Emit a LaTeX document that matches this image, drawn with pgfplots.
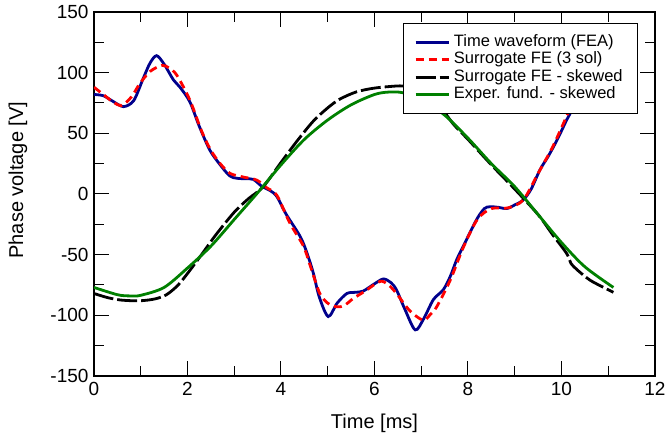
\documentclass[border=0pt]{standalone}
\usepackage{fontspec}
\setmainfont{Liberation Sans}
\usepackage{pgfplots}
\pgfplotsset{compat=1.18}
\definecolor{fea}{RGB}{0,0,140}
\definecolor{grn}{RGB}{0,128,0}
\begin{document}
\begin{tikzpicture}
\begin{axis}[
  at={(0pt,0pt)}, anchor=south west,
  scale only axis, width=561pt, height=364pt,
  xmin=0, xmax=12, ymin=-150, ymax=150,
  xtick={0,2,...,12}, ytick={-150,-100,...,150},
  minor x tick num=1, minor y tick num=1,
  tick align=inside, major tick length=15pt, minor tick length=10pt,
  every tick/.style={black, line width=1pt},
  axis line style={line width=2pt},
  ticklabel style={font=\fontsize{19}{22}\selectfont},
  yticklabel style={xshift=-2pt},
  xticklabel style={yshift=-3pt},
  /pgf/number format/assume math mode=true,
  xlabel={Time [ms]}, ylabel={Phase voltage [V]},
  every axis x label/.style={at={(rel axis cs:0.5,0)}, anchor=center, yshift=-47pt,
    font=\fontsize{20}{22}\selectfont},
  every axis y label/.style={at={(rel axis cs:0,0.538)}, xshift=-76pt, rotate=90, anchor=center,
    font=\fontsize{20}{22}\selectfont},
  legend style={at={(0.97,0.97)}, anchor=north east, draw=black, line width=1pt,
    fill=white, font=\fontsize{16.5}{18}\selectfont, cells={anchor=west},
    row sep=0pt, column sep=0pt, inner xsep=11pt, inner ysep=10pt,
    nodes={inner xsep=4pt, inner ysep=1pt, text height=12pt, text depth=3.5pt}},
  legend image code/.code={\draw[#1] (0pt,0pt) -- (33pt,0pt);},
]
\addplot[fea, line width=2.8pt, smooth, tension=0.5] coordinates {
(0,82) (0.2,81) (0.4,76.5) (0.63,72) (0.85,77) (1.05,95) (1.2,108) (1.34,114)
(1.5,107) (1.7,94) (1.84,88) (2.05,76) (2.25,56) (2.48,36) (2.7,24) (2.9,15)
(3.05,13) (3.25,12.5) (3.41,12) (3.6,6) (3.76,3) (3.91,-2) (4.1,-16) (4.41,-35)
(4.55,-48) (4.69,-65) (4.82,-85) (5.01,-101) (5.2,-90) (5.41,-82) (5.6,-81)
(5.76,-80) (6.0,-74) (6.19,-70) (6.35,-73) (6.47,-79) (6.65,-95) (6.87,-112)
(7.05,-103) (7.26,-87) (7.47,-79) (7.62,-68) (7.76,-54) (7.9,-43) (8.04,-32)
(8.2,-20) (8.35,-12) (8.47,-10.5) (8.65,-11) (8.83,-12) (9.0,-9) (9.18,-5)
(9.35,4) (9.54,20) (9.7,30) (9.83,39) (9.95,48) (10.11,61) (10.22,69) (10.4,85)
(10.6,95) (10.8,90) (11.1,82)};
\addlegendentry{Time waveform (FEA)}
\addplot[red, line width=2.8pt, dash pattern=on 8pt off 5pt, smooth, tension=0.5] coordinates {
(0,88) (0.2,82) (0.4,76) (0.59,73) (0.8,80) (0.98,91) (1.2,101) (1.45,106)
(1.6,104) (1.77,98) (2.05,77.5) (2.3,52) (2.5,36) (2.7,25) (2.91,17) (3.19,14)
(3.48,11.5) (3.7,5) (3.91,-1) (4.19,-24) (4.48,-43) (4.65,-62) (4.83,-82)
(5.0,-90) (5.19,-93) (5.35,-92) (5.55,-86) (5.8,-80) (6.12,-72) (6.3,-75)
(6.47,-82) (6.75,-96) (7.04,-104) (7.2,-99) (7.33,-93) (7.62,-71) (7.9,-44)
(8.2,-21) (8.5,-12) (8.85,-11.5) (9.18,-5) (9.5,17) (9.8,38) (10.04,58)
(10.3,80) (10.6,98) (10.9,92) (11.1,88)};
\addlegendentry{Surrogate FE (3 sol)}
\addplot[black, line width=2.8pt, dash pattern=on 20pt off 4pt, smooth, tension=0.5] coordinates {
(0,-82) (0.3,-85.5) (0.6,-87.5) (0.98,-88) (1.3,-86.5) (1.55,-83) (1.8,-75) (2.05,-63)
(2.3,-50) (2.6,-34) (3.0,-15) (3.3,-4) (3.62,6) (4.0,26) (4.35,44) (4.69,60)
(5.0,71) (5.25,78) (5.6,84) (5.95,87) (6.3,88.5) (6.62,89) (7.0,86) (7.4,72)
(7.7,57) (8.0,45) (8.5,24) (9.0,4) (9.5,-17) (9.8,-33)
(10.11,-49) (10.2,-57) (10.35,-63) (10.61,-71) (10.9,-77) (11.11,-81)};
\addlegendentry{Surrogate FE - skewed}
\addplot[grn, line width=2.8pt, smooth, tension=0.5] coordinates {
(0,-77) (0.5,-83) (0.77,-84) (1.0,-83.5) (1.5,-77) (2.0,-61) (2.5,-43) (3.0,-21)
(3.5,1) (4.0,24) (4.5,45) (5.0,61) (5.5,73.5) (6.0,82) (6.3,84) (6.6,83.5)
(7.0,78) (7.5,65) (8.0,46) (8.5,25) (9.0,6) (9.5,-17) (10.0,-40) (10.5,-60)
(11.11,-77)};
\addlegendentry{Exper. fund. - skewed}
\end{axis}
\pgfresetboundingbox
\path[use as bounding box] (-94pt,-63pt) rectangle (571pt,376pt);
\end{tikzpicture}
\end{document}
